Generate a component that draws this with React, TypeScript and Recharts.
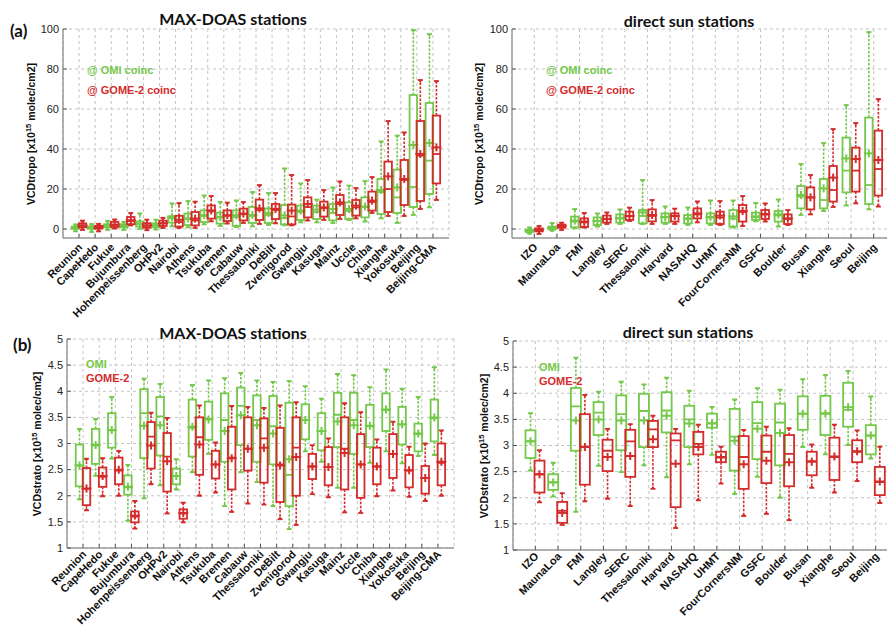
import { Bar, CartesianGrid, ComposedChart, XAxis, YAxis } from 'recharts'

// each entry: [min, q1, median, q3, max, mean]
type Stat = number[]

const maxdoasStations = [
  'Reunion', 'CapeHedo', 'Fukue', 'Bujumbura', 'Hohenpeissenberg', 'OHPv2', 'Nairobi', 'Athens',
  'Tsukuba', 'Bremen', 'Cabauw', 'Thessaloniki', 'DeBilt', 'Zvenigorod', 'Gwangju', 'Kasuga',
  'Mainz', 'Uccle', 'Chiba', 'Xianghe', 'Yokosuka', 'Beijing', 'Beijing-CMA',
]

const directSunStations = [
  'IZO', 'MaunaLoa', 'FMI', 'Langley', 'SERC', 'Thessaloniki', 'Harvard', 'NASAHQ',
  'UHMT', 'FourCornersNM', 'GSFC', 'Boulder', 'Busan', 'Xianghe', 'Seoul', 'Beijing',
]

const tropoTicks = [0, 20, 40, 60, 80, 100]
const stratoTicks = [1, 1.5, 2, 2.5, 3, 3.5, 4, 4.5, 5]

const tropoMaxdoasOmi: Stat[] = [
  [-1.2, 0.1, 0.6, 1.2, 2.3, 0.7], [-1.5, 0.1, 0.6, 1.3, 2.5, 0.7], [-0.5, 0.8, 1.5, 2.4, 4.0, 1.6],
  [-0.5, 0.8, 1.5, 2.4, 3.6, 1.6], [0.0, 1.2, 2.5, 3.8, 7.8, 2.7], [-0.3, 0.9, 1.8, 2.8, 4.7, 1.9],
  [1.3, 3.2, 5.3, 6.4, 12.8, 5.8], [0.8, 2.0, 5.0, 7.7, 14.0, 5.3], [2.3, 3.5, 6.5, 9.3, 16.8, 6.9],
  [1.5, 2.7, 5.7, 8.2, 13.5, 6.0], [1.0, 1.5, 6.0, 9.3, 14.3, 6.8], [1.3, 3.0, 6.5, 11.0, 18.5, 7.0],
  [2.0, 3.0, 7.0, 10.3, 18.0, 8.0], [1.8, 2.3, 5.5, 12.0, 30.3, 6.8], [3.3, 4.5, 8.5, 11.7, 22.8, 9.2],
  [3.3, 5.0, 8.5, 11.7, 14.7, 9.7], [3.0, 4.3, 8.0, 12.5, 20.8, 10.0], [4.5, 5.0, 9.0, 13.3, 21.7, 10.0],
  [3.7, 5.8, 11.0, 15.8, 24.0, 11.2], [5.3, 7.5, 18.5, 25.0, 43.8, 19.5], [3.0, 8.0, 15.8, 29.7, 46.7, 20.8],
  [7.0, 11.0, 21.0, 67.0, 99.5, 42.0], [10.8, 17.5, 34.2, 63.0, 97.5, 43.0],
]

const tropoMaxdoasGome: Stat[] = [
  [-0.5, 0.8, 1.6, 2.8, 4.2, 1.8], [-1.2, 0.2, 0.8, 1.6, 2.6, 0.9], [0.2, 1.0, 2.0, 3.6, 4.8, 2.2],
  [1.8, 2.4, 4.0, 6.0, 8.0, 4.4], [-0.6, 0.6, 1.6, 2.9, 4.7, 1.8], [0.5, 1.5, 2.8, 4.2, 5.6, 2.9],
  [0.5, 1.2, 3.5, 6.6, 13.0, 4.6], [0.5, 1.8, 4.3, 8.5, 13.7, 5.2], [3.8, 5.2, 8.8, 11.8, 16.5, 9.3],
  [2.7, 4.0, 6.6, 9.3, 13.2, 6.9], [3.0, 4.3, 7.4, 10.2, 13.5, 7.7], [2.5, 4.5, 9.5, 14.7, 22.0, 10.3],
  [2.8, 5.0, 9.5, 12.5, 18.0, 10.0], [1.8, 2.3, 6.3, 12.2, 27.0, 9.2], [4.2, 5.8, 11.0, 15.8, 24.5, 12.5],
  [4.5, 6.2, 10.5, 13.7, 19.5, 10.8], [5.0, 7.0, 12.5, 17.0, 23.8, 13.3], [5.3, 6.7, 10.8, 14.5, 20.5, 11.7],
  [8.0, 9.2, 13.5, 18.7, 26.0, 14.2], [6.5, 8.5, 20.0, 33.7, 54.0, 26.3], [6.5, 12.0, 24.5, 34.5, 48.3, 25.0],
  [10.0, 14.0, 36.7, 54.0, 74.5, 37.5], [14.5, 22.8, 37.5, 56.7, 74.0, 40.8],
]

const tropoSunOmi: Stat[] = [
  [-2.3, -1.5, -1.0, -0.3, 0.8, -0.9], [-0.8, -0.2, 0.4, 1.2, 3.0, 0.5], [0.3, 0.8, 3.7, 6.2, 10.0, 4.2],
  [1.2, 2.0, 4.0, 5.8, 7.8, 4.0], [2.5, 3.2, 5.3, 7.3, 9.8, 5.4], [2.5, 2.8, 6.5, 9.5, 24.5, 8.3],
  [2.5, 3.2, 5.8, 7.8, 11.3, 6.0], [2.0, 2.8, 5.0, 7.0, 10.8, 5.3], [2.0, 2.8, 5.7, 7.8, 14.3, 6.0],
  [0.7, 1.2, 5.2, 9.5, 14.3, 6.3], [3.8, 4.5, 6.0, 8.2, 13.0, 6.3], [1.2, 3.7, 6.8, 9.0, 14.8, 7.3],
  [7.0, 10.3, 16.2, 21.5, 32.5, 17.0], [9.0, 10.3, 14.5, 25.0, 43.0, 20.3], [11.7, 18.3, 29.2, 45.7, 62.0, 35.3],
  [9.8, 12.5, 22.0, 55.7, 98.5, 37.8],
]

const tropoSunGome: Stat[] = [
  [-2.5, -1.2, -0.5, 0.3, 1.5, -0.4], [-0.5, 0.6, 1.4, 2.2, 3.2, 1.5], [0.7, 1.0, 3.3, 5.3, 8.0, 3.7],
  [2.5, 3.2, 5.0, 6.7, 8.3, 5.0], [4.0, 4.5, 6.4, 8.7, 10.7, 6.5], [2.5, 3.8, 6.5, 9.8, 14.5, 7.0],
  [2.5, 3.7, 6.4, 7.8, 10.2, 6.5], [3.3, 5.3, 7.3, 10.3, 13.8, 7.8], [2.0, 2.5, 5.7, 8.7, 14.0, 6.7],
  [1.5, 3.7, 8.5, 12.0, 16.5, 9.0], [3.7, 5.0, 7.2, 9.5, 12.8, 7.5], [2.0, 2.5, 5.0, 7.3, 9.5, 5.3],
  [7.3, 9.8, 15.8, 20.8, 27.0, 15.8], [11.0, 13.7, 19.5, 31.5, 50.0, 25.7], [12.8, 18.7, 29.2, 40.7, 53.0, 35.0],
  [11.2, 16.7, 30.0, 49.2, 65.0, 34.5],
]

const stratoMaxdoasOmi: Stat[] = [
  [1.93, 2.18, 2.58, 2.98, 3.28, 2.58], [2.38, 2.61, 2.96, 3.28, 3.47, 2.97], [2.71, 2.92, 3.25, 3.58, 3.89, 3.26],
  [1.52, 2.02, 2.16, 2.39, 2.59, 2.17], [1.95, 2.72, 3.58, 4.04, 4.24, 3.34], [2.2, 2.77, 3.52, 3.89, 4.14, 3.35],
  [2.12, 2.22, 2.38, 2.52, 2.7, 2.38], [2.45, 2.75, 3.3, 3.84, 4.12, 3.32], [2.8, 3.07, 3.47, 3.8, 4.21, 3.46],
  [1.8, 2.65, 3.45, 3.96, 4.25, 3.24], [2.45, 2.97, 3.72, 4.07, 4.35, 3.54], [2.26, 2.65, 3.45, 3.92, 4.21, 3.35],
  [1.8, 2.6, 3.33, 3.91, 4.18, 3.19], [1.36, 1.8, 2.4, 3.78, 4.2, 2.7], [2.85, 3.08, 3.45, 3.75, 4.1, 3.45],
  [2.65, 2.87, 3.24, 3.58, 3.86, 3.24], [2.15, 2.93, 3.55, 3.97, 4.33, 3.42], [2.15, 2.8, 3.45, 3.97, 4.31, 3.35],
  [2.63, 2.93, 3.33, 3.74, 4.08, 3.34], [2.85, 3.24, 3.64, 3.96, 4.42, 3.65], [2.62, 2.98, 3.36, 3.7, 4.05, 3.37],
  [2.76, 2.85, 3.18, 3.38, 3.89, 3.19], [2.78, 3.04, 3.48, 3.84, 4.46, 3.5],
]

const stratoMaxdoasGome: Stat[] = [
  [1.72, 1.82, 2.13, 2.53, 2.71, 2.14], [1.99, 2.17, 2.36, 2.54, 2.72, 2.38], [2.0, 2.22, 2.48, 2.73, 2.86, 2.5],
  [1.37, 1.49, 1.6, 1.7, 1.9, 1.62], [2.22, 2.52, 3.13, 3.41, 3.59, 2.96], [1.66, 2.08, 2.75, 3.2, 3.49, 2.66],
  [1.49, 1.56, 1.66, 1.74, 1.87, 1.67], [2.0, 2.4, 3.12, 3.5, 3.73, 2.98], [2.06, 2.33, 2.6, 2.86, 3.02, 2.6],
  [1.69, 2.12, 2.73, 3.32, 3.72, 2.72], [1.85, 2.48, 2.9, 3.5, 3.7, 2.9], [1.83, 2.25, 3.1, 3.48, 3.68, 2.92],
  [1.55, 1.88, 2.6, 3.3, 3.73, 2.58], [1.44, 2.0, 2.92, 3.5, 3.79, 2.74], [2.03, 2.32, 2.56, 2.8, 2.97, 2.56],
  [1.97, 2.2, 2.55, 2.93, 3.1, 2.55], [1.68, 2.12, 2.9, 3.5, 3.77, 2.82], [1.67, 1.96, 2.6, 3.18, 3.6, 2.6],
  [1.99, 2.22, 2.56, 2.92, 3.08, 2.56], [2.1, 2.34, 2.8, 3.18, 3.42, 2.8], [1.98, 2.16, 2.48, 2.78, 2.94, 2.49],
  [1.9, 2.04, 2.34, 2.57, 3.0, 2.34], [2.0, 2.2, 2.63, 3.0, 3.25, 2.65],
]

const stratoSunOmi: Stat[] = [
  [2.52, 2.76, 3.08, 3.29, 3.62, 3.08], [2.02, 2.15, 2.3, 2.45, 2.67, 2.29], [1.73, 2.9, 3.75, 4.1, 4.68, 3.48],
  [2.61, 3.2, 3.63, 3.83, 4.03, 3.5], [2.49, 2.91, 3.6, 3.96, 4.22, 3.48], [2.62, 2.97, 3.66, 3.99, 4.17, 3.48],
  [2.39, 3.25, 3.67, 4.02, 4.3, 3.57], [2.64, 2.97, 3.5, 3.76, 4.05, 3.42], [2.82, 3.34, 3.43, 3.61, 3.74, 3.42],
  [2.07, 2.52, 3.17, 3.7, 3.88, 3.09], [2.4, 2.74, 3.43, 3.83, 4.1, 3.32], [2.0, 2.62, 3.44, 3.8, 4.07, 3.24],
  [2.97, 3.3, 3.61, 3.94, 4.27, 3.61], [2.83, 3.2, 3.62, 3.95, 4.35, 3.61], [3.01, 3.36, 3.68, 4.2, 4.43, 3.73],
  [2.75, 2.83, 3.19, 3.39, 3.94, 3.19],
]

const stratoSunGome: Stat[] = [
  [1.91, 2.1, 2.45, 2.71, 2.91, 2.45], [1.48, 1.52, 1.75, 1.92, 2.09, 1.71], [1.93, 2.25, 2.98, 3.6, 3.97, 2.97],
  [1.98, 2.51, 2.9, 3.11, 3.32, 2.78], [1.84, 2.4, 3.08, 3.3, 3.41, 2.8], [2.17, 2.97, 3.31, 3.47, 3.57, 3.12],
  [1.42, 1.82, 3.1, 3.23, 3.32, 2.65], [1.95, 2.83, 3.03, 3.26, 3.4, 2.97], [2.27, 2.68, 2.78, 2.88, 2.98, 2.77],
  [1.65, 2.17, 2.78, 3.18, 3.3, 2.64], [1.69, 2.28, 2.88, 3.19, 3.36, 2.71], [1.57, 2.22, 2.84, 3.2, 3.33, 2.68],
  [2.19, 2.43, 2.7, 2.88, 3.02, 2.69], [2.1, 2.34, 2.78, 3.15, 3.4, 2.79], [2.32, 2.68, 2.88, 3.1, 3.29, 2.89],
  [1.9, 2.05, 2.3, 2.59, 2.98, 2.31],
]

const GREEN = '#74c84a'
const RED = '#d42b2b'
const SANS = '"Liberation Sans", Arial, sans-serif'
const TITLE_FONT = 'Lato, "Open Sans", sans-serif'

function buildRows(stations: string[], omi: Stat[], gome: Stat[]) {
  return stations.map((name, i) => ({
    name,
    omi: omi[i],
    gome: gome[i],
    omiRange: [omi[i][0], omi[i][4]],
    gomeRange: [gome[i][0], gome[i][4]],
  }))
}

function BoxShape(props: any) {
  const { x, y, width, height, payload, series, color, boxW } = props
  const s: Stat = payload[series]
  const top = Math.min(y, y + height)
  const bottom = Math.max(y, y + height)
  const span = s[4] - s[0]
  const py = (v: number) => (span > 0 ? bottom - ((v - s[0]) * (bottom - top)) / span : top)
  const cx = x + width / 2
  const w = boxW ?? width
  const yMin = py(s[0])
  const yQ1 = py(s[1])
  const yMed = py(s[2])
  const yQ3 = py(s[3])
  const yMax = py(s[4])
  const yMean = py(s[5])
  return (
    <g>
      <line x1={cx} x2={cx} y1={yQ3} y2={yMax} stroke={color} strokeWidth={1.6} strokeDasharray="2.5 1.5" />
      <line x1={cx} x2={cx} y1={yQ1} y2={yMin} stroke={color} strokeWidth={1.6} strokeDasharray="2.5 1.5" />
      <line x1={cx - 2.5} x2={cx + 2.5} y1={yMax} y2={yMax} stroke={color} strokeWidth={1.8} />
      <polygon points={`${cx - 2},${yMax} ${cx + 2},${yMax} ${cx},${yMax + 3}`} fill={color} />
      <line x1={cx - 2.5} x2={cx + 2.5} y1={yMin} y2={yMin} stroke={color} strokeWidth={1.8} />
      <polygon points={`${cx - 2},${yMin} ${cx + 2},${yMin} ${cx},${yMin - 3}`} fill={color} />
      <rect x={cx - w / 2} y={yQ3} width={w} height={Math.max(yQ1 - yQ3, 0.5)} fill="none" stroke={color} strokeWidth={1.8} />
      <line x1={cx - w / 2} x2={cx + w / 2} y1={yMed} y2={yMed} stroke={color} strokeWidth={1.8} />
      <line x1={cx - 5} x2={cx + 5} y1={yMean} y2={yMean} stroke={color} strokeWidth={2} />
      <line x1={cx} x2={cx} y1={yMean - 4} y2={yMean + 4} stroke={color} strokeWidth={2} />
    </g>
  )
}

function YTick(props: any) {
  const { x, y, payload } = props
  return (
    <g>
      <line x1={x} x2={x + 4} y1={y} y2={y} stroke="#555" />
      <text x={x - 4} y={y} dy="0.35em" textAnchor="end" fontSize={11} fill="#222" fontFamily={SANS}>
        {payload.value}
      </text>
    </g>
  )
}

function XTick(props: any) {
  const { x, y, payload, labelDy } = props
  const tx = x + 4
  const ty = y + labelDy
  return (
    <g>
      <line x1={x} x2={x} y1={y} y2={y - 4} stroke="#555" />
      <text
        x={tx}
        y={ty}
        transform={`rotate(-45 ${tx} ${ty})`}
        textAnchor="end"
        fontSize={11}
        fontWeight="bold"
        fill="#111"
        fontFamily={SANS}
      >
        {payload.value}
      </text>
    </g>
  )
}

type PanelProps = {
  rows: ReturnType<typeof buildRows>
  left: number
  top: number
  width: number
  height: number
  marginTop: number
  marginRight: number
  yAxisWidth: number
  xAxisHeight: number
  xPad: number
  domain: [number, number]
  ticks: number[]
  barSize: number
  barGap: number
  boxW: number
  labelDy: number
}

function Panel(p: PanelProps) {
  return (
    <div style={{ position: 'absolute', left: p.left, top: p.top }}>
      <ComposedChart
        width={p.width}
        height={p.height}
        data={p.rows}
        margin={{ top: p.marginTop, right: p.marginRight, bottom: 0, left: 0 }}
        barGap={p.barGap}
        barSize={p.barSize}
      >
        <CartesianGrid stroke="#c4c4c4" strokeDasharray="3 3" />
        <XAxis
          dataKey="name"
          interval={0}
          height={p.xAxisHeight}
          padding={{ left: p.xPad, right: p.xPad }}
          tickLine={false}
          tickSize={0}
          tickMargin={0}
          axisLine={{ stroke: '#9a9a9a', strokeWidth: 1.5 }}
          tick={<XTick labelDy={p.labelDy} />}
        />
        <YAxis
          type="number"
          domain={p.domain}
          ticks={p.ticks}
          allowDataOverflow
          width={p.yAxisWidth}
          tickLine={false}
          tickSize={0}
          tickMargin={0}
          axisLine={{ stroke: '#9a9a9a', strokeWidth: 1.5 }}
          tick={<YTick />}
        />
        <Bar
          dataKey="omiRange"
          isAnimationActive={false}
          shape={(props: any) => <BoxShape {...props} series="omi" color={GREEN} boxW={p.boxW} />}
        />
        <Bar
          dataKey="gomeRange"
          isAnimationActive={false}
          shape={(props: any) => <BoxShape {...props} series="gome" color={RED} boxW={p.boxW} />}
        />
      </ComposedChart>
    </div>
  )
}

function YLabel({ x, y, name }: { x: number; y: number; name: string }) {
  return (
    <text transform={`translate(${x},${y}) rotate(-90)`} textAnchor="middle" fontSize={10.5} fontWeight="bold" fill="#111" fontFamily={SANS}>
      {`${name} [x10`}
      <tspan dy={-4} fontSize={7.5}>15</tspan>
      <tspan dy={4}> molec/cm2]</tspan>
    </text>
  )
}

export default function App() {
  const tropoMaxdoas = buildRows(maxdoasStations, tropoMaxdoasOmi, tropoMaxdoasGome)
  const tropoSun = buildRows(directSunStations, tropoSunOmi, tropoSunGome)
  const stratoMaxdoas = buildRows(maxdoasStations, stratoMaxdoasOmi, stratoMaxdoasGome)
  const stratoSun = buildRows(directSunStations, stratoSunOmi, stratoSunGome)

  return (
    <div style={{ position: 'fixed', left: 0, top: 0, width: 887, height: 627, overflow: 'hidden', background: '#fff' }}>
      <Panel rows={tropoMaxdoas} left={0} top={0} width={460} height={330} marginTop={29} marginRight={11}
        yAxisWidth={63} xAxisHeight={92} xPad={8} domain={[-4.5, 100]} ticks={tropoTicks} barSize={7} barGap={0} boxW={7.5} labelDy={10} />
      <Panel rows={tropoSun} left={449} top={0} width={460} height={330} marginTop={29} marginRight={13}
        yAxisWidth={63} xAxisHeight={92} xPad={11} domain={[-4.5, 100]} ticks={tropoTicks} barSize={7} barGap={2.5} boxW={7.5} labelDy={10} />
      <Panel rows={stratoMaxdoas} left={0} top={310} width={466} height={317} marginTop={29} marginRight={12}
        yAxisWidth={67} xAxisHeight={79} xPad={8} domain={[1, 5]} ticks={stratoTicks} barSize={7} barGap={0} boxW={7.5} labelDy={7} />
      <Panel rows={stratoSun} left={449} top={310} width={460} height={317} marginTop={31} marginRight={11}
        yAxisWidth={64} xAxisHeight={77} xPad={11} domain={[1, 5]} ticks={stratoTicks} barSize={9} barGap={0} boxW={10} labelDy={7} />

      <svg width={887} height={627} style={{ position: 'absolute', left: 0, top: 0, pointerEvents: 'none' }}>
        <g fontFamily={TITLE_FONT} fontWeight="bold" fill="#111">
          <text x={10} y={37} fontSize={17}>(a)</text>
          <text x={13} y={351} fontSize={17}>(b)</text>
          <text x={233} y={25} fontSize={16} textAnchor="middle">MAX-DOAS stations</text>
          <text x={689} y={27} fontSize={16} textAnchor="middle">direct sun stations</text>
          <text x={233} y={339} fontSize={16} textAnchor="middle">MAX-DOAS stations</text>
          <text x={688} y={338} fontSize={16} textAnchor="middle">direct sun stations</text>
        </g>
        <YLabel x={35} y={134} name="VCDtropo" />
        <YLabel x={483} y={134} name="VCDtropo" />
        <YLabel x={41} y={444} name="VCDstrato" />
        <YLabel x={488} y={446} name="VCDstrato" />
        <g fontFamily={SANS} fontWeight="bold" fontSize={11}>
          <text x={87} y={74} fill={GREEN}>@ OMI coinc</text>
          <text x={87} y={94} fill={RED}>@ GOME-2 coinc</text>
          <text x={546} y={74} fill={GREEN}>@ OMI coinc</text>
          <text x={546} y={94} fill={RED}>@ GOME-2 coinc</text>
          <text x={86} y={368} fill={GREEN}>OMI</text>
          <text x={86} y={382} fill={RED}>GOME-2</text>
          <text x={539} y={371} fill={GREEN}>OMI</text>
          <text x={539} y={385} fill={RED}>GOME-2</text>
        </g>
      </svg>
    </div>
  )
}
